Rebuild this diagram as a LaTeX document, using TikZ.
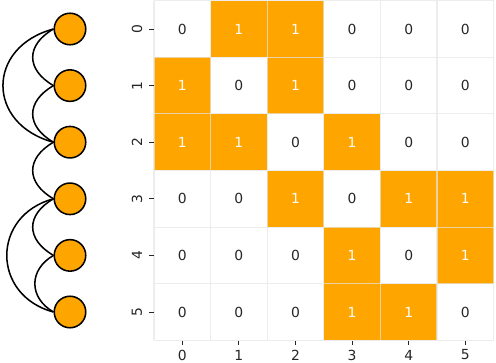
\documentclass[tikz,border=0pt]{standalone}
\usepackage{fontspec}
\setmainfont{DejaVu Sans}
\definecolor{cellorange}{HTML}{FFA500}
\definecolor{txtdark}{HTML}{262626}
\definecolor{gridgray}{HTML}{E6E6E6}

\tikzset{
	vertex/.style={circle, draw=black, line width=1.1pt, fill=cellorange, minimum size=22.7pt, inner sep=0pt},
	edge/.style={draw=black, line width=1.1pt},
	cell0/.style={minimum size=40.75pt, inner sep=0pt, text=txtdark},
	cell1/.style={minimum size=40.75pt, inner sep=0pt, fill=cellorange, text=white},
	gridline/.style={draw=gridgray, line width=0.8pt, opacity=0.7},
	tickmark/.style={draw=txtdark, line width=0.6pt},
	ticklabel/.style={inner sep=0pt, text=txtdark}
}

\def\s{56.6}
\def\hx{154}
\def\hy{361.3}

\begin{document}
\begin{tikzpicture}[x=0.72pt, y=0.72pt, font=\fontsize{10}{12}\selectfont]
	\useasboundingbox (0,0) rectangle (496,362);
	% heatmap cells
	\foreach \r/\row in {0/{0,1,1,0,0,0}, 1/{1,0,1,0,0,0}, 2/{1,1,0,1,0,0}, 3/{0,0,1,0,1,1}, 4/{0,0,0,1,0,1}, 5/{0,0,0,1,1,0}}
		\foreach \v [count=\c from 0] in \row
			\node[cell\v] (c\r\c) at ({\hx+(\c+0.5)*\s},{\hy-(\r+0.5)*\s}) {\v};
	% grid
	\foreach \k in {0,...,6} {
		\draw[gridline] ({\hx+\k*\s},\hy) -- ++(0,{-6*\s});
		\draw[gridline] (\hx,{\hy-\k*\s}) -- ++({6*\s},0);
	}
	% ticks and labels
	\foreach \k in {0,...,5} {
		\draw[tickmark] ({\hx-0.5},{\hy-(\k+0.5)*\s}) -- ++(-4.5,0);
		\node[ticklabel, rotate=90] (yl\k) at (137,{\hy-(\k+0.5)*\s}) {\k};
		\draw[tickmark] ({\hx+(\k+0.5)*\s},{\hy-6*\s-0.5}) -- ++(0,-4.5);
		\node[ticklabel] (xl\k) at ({\hx+(\k+0.5)*\s},7) {\k};
	}
	% graph
	\foreach \k in {0,...,5}
		\node[vertex] (v\k) at (70,{\hy-(\k+0.5)*\s}) {};
	\draw[edge] (v0.west) to[out=210, in=150, looseness=1.45] (v1.west);
	\draw[edge] (v0.west) to[out=195, in=165, looseness=1.58] (v2.west);
	\draw[edge] (v1.west) to[out=210, in=150, looseness=1.45] (v2.west);
	\draw[edge] (v2.west) to[out=210, in=150, looseness=1.45] (v3.west);
	\draw[edge] (v3.west) to[out=210, in=150, looseness=1.45] (v4.west);
	\draw[edge] (v3.west) to[out=195, in=165, looseness=1.46] (v5.west);
	\draw[edge] (v4.west) to[out=210, in=150, looseness=1.3] (v5.west);
\end{tikzpicture}
\end{document}
